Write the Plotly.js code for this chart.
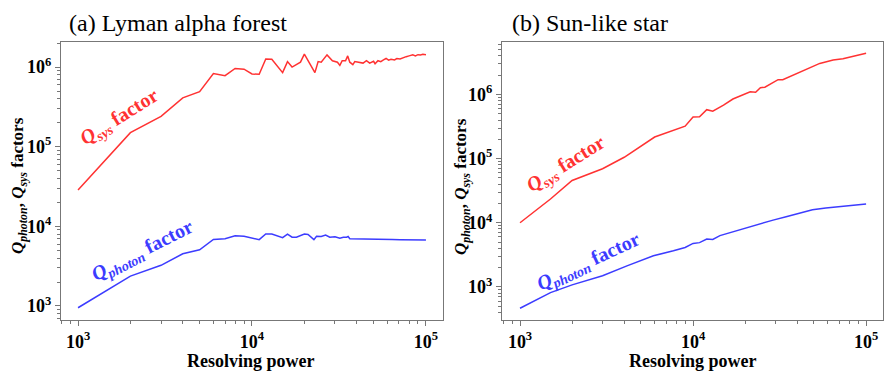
<!DOCTYPE html>
<html>
<head>
<meta charset="utf-8">
<script src="https://cdn.plot.ly/plotly-3.0.1.min.js"></script>
</head>
<body style="margin:0">
<div style="position:absolute;left:0;top:0;opacity:0;font-family:'Liberation Serif';font-weight:bold">10 <i>Q</i> (a)</div>
<div id="myPlot"></div>
<script>
// (a) Lyman alpha forest
var lymanSysR = [1000,2000,3000,4000,5000,6000,7000,8000,9000,10000,11000,12000,13000,15000,16000,17000,19000,20000,23000,24000,25000,27000,29000,31000,32000,33000,34500,35500,36500,38000,39000,41000,43500,45500,47500,50000,51000,53000,55000,57000,59000,61000,63000,66000,68000,71000,74000,77000,80000,84000,87000,90000,93000,96000,100000];
var lymanSys = [2.85e4,1.5e5,2.4e5,4.1e5,4.9e5,8.3e5,7.8e5,9.6e5,9.4e5,8.2e5,8.1e5,1.26e6,1.25e6,8.5e5,1.17e6,1.0e6,1.15e6,1.45e6,8.5e5,1.17e6,1.15e6,1.42e6,1.2e6,1.15e6,1.05e6,1.2e6,1.2e6,1.38e6,1.15e6,1.07e6,1.17e6,1.15e6,1.12e6,1.2e6,1.12e6,1.18e6,1.1e6,1.2e6,1.17e6,1.23e6,1.28e6,1.22e6,1.25e6,1.23e6,1.28e6,1.26e6,1.32e6,1.35e6,1.38e6,1.42e6,1.38e6,1.43e6,1.42e6,1.45e6,1.43e6];
var lymanPhotonR = [1000,2000,3000,4000,5000,6000,7000,8000,9000,11000,12000,13000,15000,16000,17000,18000,20000,21000,22700,23500,25000,26500,28000,30000,32000,33500,35000,35700,36500,40000,45500,50000,57000,64000,71000,80000,90000,100000];
var lymanPhoton = [950,2370,3240,4530,5080,6830,7000,7600,7500,6800,8000,8000,7200,8000,7300,7300,8000,7900,6800,7500,7450,7750,7300,7400,7100,7300,7300,7450,7000,7000,7000,6950,6900,6850,6800,6800,6800,6750];

// (b) Sun-like star
var sunSysR = [1000,1500,2000,3000,4000,6000,9000,10000,10900,12000,13000,15000,17000,21400,23000,24500,26000,29000,31000,33000,37800,45000,54000,64500,73500,84500,100000];
var sunSys = [1.0e4,2.35e4,4.56e4,6.95e4,1.05e5,2.17e5,3.2e5,4.45e5,4.5e5,5.8e5,5.5e5,6.8e5,8.5e5,1.1e6,1.08e6,1.27e6,1.3e6,1.55e6,1.7e6,1.7e6,2.0e6,2.5e6,3.05e6,3.45e6,3.6e6,3.95e6,4.4e6];
var sunPhotonR = [1000,1500,2000,3000,4150,5000,5900,7700,9000,10000,10900,12000,13000,14300,17000,21400,24500,29000,34500,41000,49000,58500,70000,84000,100000];
var sunPhoton = [465,815,1075,1490,2130,2550,3050,3650,4120,4770,4900,5570,5500,6300,7250,8700,9600,11000,12400,14200,15900,17000,18000,19000,19700];

// tick labels
var xTickVals = [1e3,1e4,1e5];
var xTickText = ['<b>10<sup>3</sup></b>','<b>10<sup>4</sup></b>','<b>10<sup>5</sup></b>'];
var yTickVals = [1e3,1e4,1e5,1e6];
var yTickText = ['<b>10<sup>3</sup></b>','<b>10<sup>4</sup></b>','<b>10<sup>5</sup></b>','<b>10<sup>6</sup></b>'];

var serifFont = 'Liberation Serif';
var redColor = 'rgb(255,50,50)';
var blueColor = 'rgb(60,60,255)';

// minor log ticks 2..9 in each decade
function minorTicks(lo, hi) {
	var out = [];
	for (var p = lo; p <= hi; p++)
		for (var m = 2; m <= 9; m++) out.push(m * Math.pow(10, p));
	return out;
}

function makeTrace(x, y, color, xa, ya) {
	return { x: x, y: y, type: 'scatter', mode: 'lines', xaxis: xa, yaxis: ya,
		line: { color: color, width: 1.5 } };
}

var data = [
	makeTrace(lymanSysR, lymanSys, redColor, 'x', 'y'),
	makeTrace(lymanPhotonR, lymanPhoton, blueColor, 'x', 'y'),
	makeTrace(sunSysR, sunSys, redColor, 'x2', 'y2'),
	makeTrace(sunPhotonR, sunPhoton, blueColor, 'x2', 'y2')
];

function xAxis(range, domain, anchor) {
	return {
		type: 'log', range: range, domain: domain, anchor: anchor,
		showline: true, mirror: true, linecolor: '#777',
		ticks: 'outside', ticklen: 5, tickcolor: '#777',
		tickmode: 'array', tickvals: xTickVals, ticktext: xTickText,
		tickfont: { family: serifFont, size: 18, color: '#000' },
		showgrid: false,
		minor: { ticks: 'outside', ticklen: 3, tickmode: 'array', tickvals: minorTicks(2, 4) }
	};
}

function yAxis(range, anchor) {
	return {
		type: 'log', range: range, domain: [0.1623, 0.890], anchor: anchor,
		showline: true, mirror: true, linecolor: '#777',
		ticks: 'outside', ticklen: 5, tickcolor: '#777',
		tickmode: 'array', tickvals: yTickVals, ticktext: yTickText,
		tickfont: { family: serifFont, size: 18, color: '#000' },
		showgrid: false,
		minor: { ticks: 'outside', ticklen: 3, tickmode: 'array', tickvals: minorTicks(2, 6) }
	};
}

function note(text, color, size, x, y, angle, xanchor) {
	return { xref: 'paper', yref: 'paper', x: x / 889, y: 1 - y / 382,
		xanchor: xanchor || 'center', yanchor: 'middle', showarrow: false, textangle: angle || 0,
		text: text, font: { family: serifFont, size: size, color: color } };
}

var sysText = '<b><i>Q</i><sub><i>sys</i></sub> factor</b>';
var photonText = '<b><i>Q</i><sub><i>photon</i></sub> factor</b>';
var yTitle = '<b><i>Q</i><sub><i>photon</i></sub>, <i>Q</i><sub><i>sys</i></sub> factors</b>';
var xTitle = '<b>Resolving power</b>';

var layout = {
	width: 889, height: 382,
	font: { family: serifFont },
	margin: { l: 0, r: 0, t: 0, b: 0 },
	showlegend: false,
	xaxis: xAxis([2.902, 5.098], [0.0686, 0.4983], 'y'),
	yaxis: yAxis([2.824, 6.314], 'x'),
	xaxis2: xAxis([2.896, 5.098], [0.5647, 0.9933], 'y2'),
	yaxis2: yAxis([2.484, 6.818], 'x2'),
	annotations: [
		note('(a) Lyman alpha forest', '#000', 24, 67, 23, 0, 'left'),
		note('(b) Sun-like star', '#000', 24, 510, 23, 0, 'left'),
		note(xTitle, '#000', 18, 251, 361),
		note(xTitle, '#000', 18, 693, 361),
		note(yTitle, '#000', 17, 19, 186, -90),
		note(yTitle, '#000', 17, 462, 186, -90),
		note(sysText, redColor, 20, 120, 118, -32),
		note(photonText, blueColor, 20, 142, 251, -27),
		note(sysText, redColor, 20, 566, 164, -32),
		note(photonText, blueColor, 20, 588, 262, -25)
	]
};

var draw = function () { Plotly.newPlot('myPlot', data, layout, { displayModeBar: false }); };
if (document.fonts && document.fonts.load) {
	Promise.all([
		document.fonts.load('18px "Liberation Serif"'),
		document.fonts.load('bold 18px "Liberation Serif"'),
		document.fonts.load('italic bold 18px "Liberation Serif"')
	]).then(draw, draw);
} else {
	draw();
}
</script>
</body>
</html>
